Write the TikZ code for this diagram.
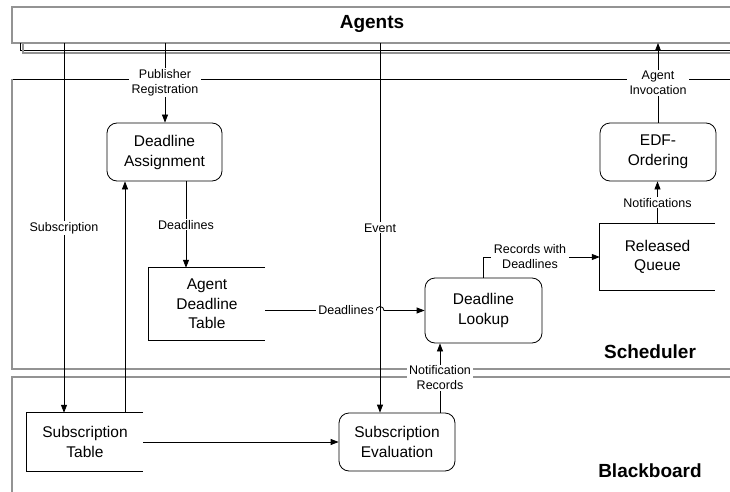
\documentclass[tikz,border=0pt]{standalone}
\usepackage{fontspec}
\setmainfont{Liberation Sans}
\usetikzlibrary{arrows.meta}
\tikzset{
  proc/.style={draw, line width=0.8pt, rounded corners=10pt, inner sep=0pt, align=center,
    font=\fontsize{15.5}{20}\selectfont},
  store/.style={inner sep=0pt, align=center, font=\fontsize{15.5}{19.5}\selectfont},
  storeline/.style={line width=0.8pt},
  lbl/.style={fill=white, inner xsep=2.5pt, inner ysep=1pt, align=center,
    font=\fontsize{12.5}{15}\selectfont},
  conn/.style={line width=0.8pt, -{Triangle[length=8pt,width=6pt]}},
  regionline/.style={draw=gray!85, line width=1.4pt},
  title/.style={font=\bfseries\fontsize{19}{22}\selectfont}
}
\begin{document}
\begin{tikzpicture}[x=1pt,y=-1pt]
\useasboundingbox[fill=white] (0,0) rectangle (730,492);
% regions
\draw[regionline] (730,7) -- (12,7) -- (12,43) -- (730,43);
\draw[line width=0.8pt] (20,43) -- (20,50) -- (730,50);
\draw[regionline, line width=1.1pt] (23,43) -- (23,53) -- (730,53);
\draw[line width=0.8pt] (730,79) -- (12,79);
\draw[regionline, line width=1.1pt] (12,79) -- (12,369) -- (730,369);
\draw[regionline, line width=1.1pt] (730,377) -- (12,377) -- (12,492);
\node[title] (agents) at (372,24) {Agents};
\node[title] (sched) at (650,352) {Scheduler};
\node[title] (bb) at (650,471) {Blackboard};
% free ends at the Agents bar
\coordinate (subsrc) at (64,43);
\coordinate (pubsrc) at (165,43);
\coordinate (evsrc) at (380,43);
\coordinate (agb) at (658,43);
% processes
\node[proc, minimum width=115pt, minimum height=58pt] (da) at (164.5,152) {Deadline\\Assignment};
\node[proc, minimum width=116pt, minimum height=58pt] (edf) at (658,152) {EDF-\\Ordering};
\node[proc, minimum width=117pt, minimum height=65pt] (dl) at (483.5,310.5) {Deadline\\Lookup};
\node[proc, minimum width=116pt, minimum height=58pt] (se) at (397,442) {Subscription\\Evaluation};
% stores
\node[store, minimum width=116pt, minimum height=72pt] (adt) at (207,304) {Agent\\Deadline\\Table};
\node[store, minimum width=115pt, minimum height=66pt] (rq) at (657.5,257) {Released\\Queue};
\node[store, minimum width=116pt, minimum height=58pt] (st) at (85,442) {Subscription\\Table};
\foreach \s in {adt,rq,st}{
  \draw[storeline] (\s.north east) -- (\s.north west) -- (\s.south west) -- (\s.south east);
}
% connectors
\draw[conn] (subsrc) -- node[lbl]{Subscription} (subsrc |- st.north);
\draw[conn] (pubsrc) -- node[lbl]{Publisher\\Registration} (pubsrc |- da.north);
\draw[conn] ([xshift=21.5pt]da.south) -- node[lbl]{Deadlines} ([xshift=21.5pt]da.south |- adt.north);
\draw[conn] ([xshift=40pt]st.north) -- ([xshift=40pt]st.north |- da.south);
\draw[conn] (evsrc) -- node[lbl]{Event} (evsrc |- se.north);
\draw[conn] (adt.east |- dl.west) -- node[lbl, pos=0.73]{Deadlines} ([xshift=-4pt]evsrc |- dl.west)
   arc[start angle=180, end angle=0, radius=4pt] -- (dl.west);
\draw[conn] (dl.north) |- node[lbl, pos=0.70]{Records with\\Deadlines} (rq.west);
\draw[conn] (rq.north) -- node[lbl]{Notifications} (rq.north |- edf.south);
\draw[conn] (edf.north) -- node[lbl]{Agent\\Invocation} (edf.north |- agb);
\draw[conn] ([xshift=43pt]se.north) -- node[lbl]{Notification\\Records} ([xshift=43pt]se.north |- dl.south);
\draw[conn] (st.east) -- (se.west);
\end{tikzpicture}
\end{document}
